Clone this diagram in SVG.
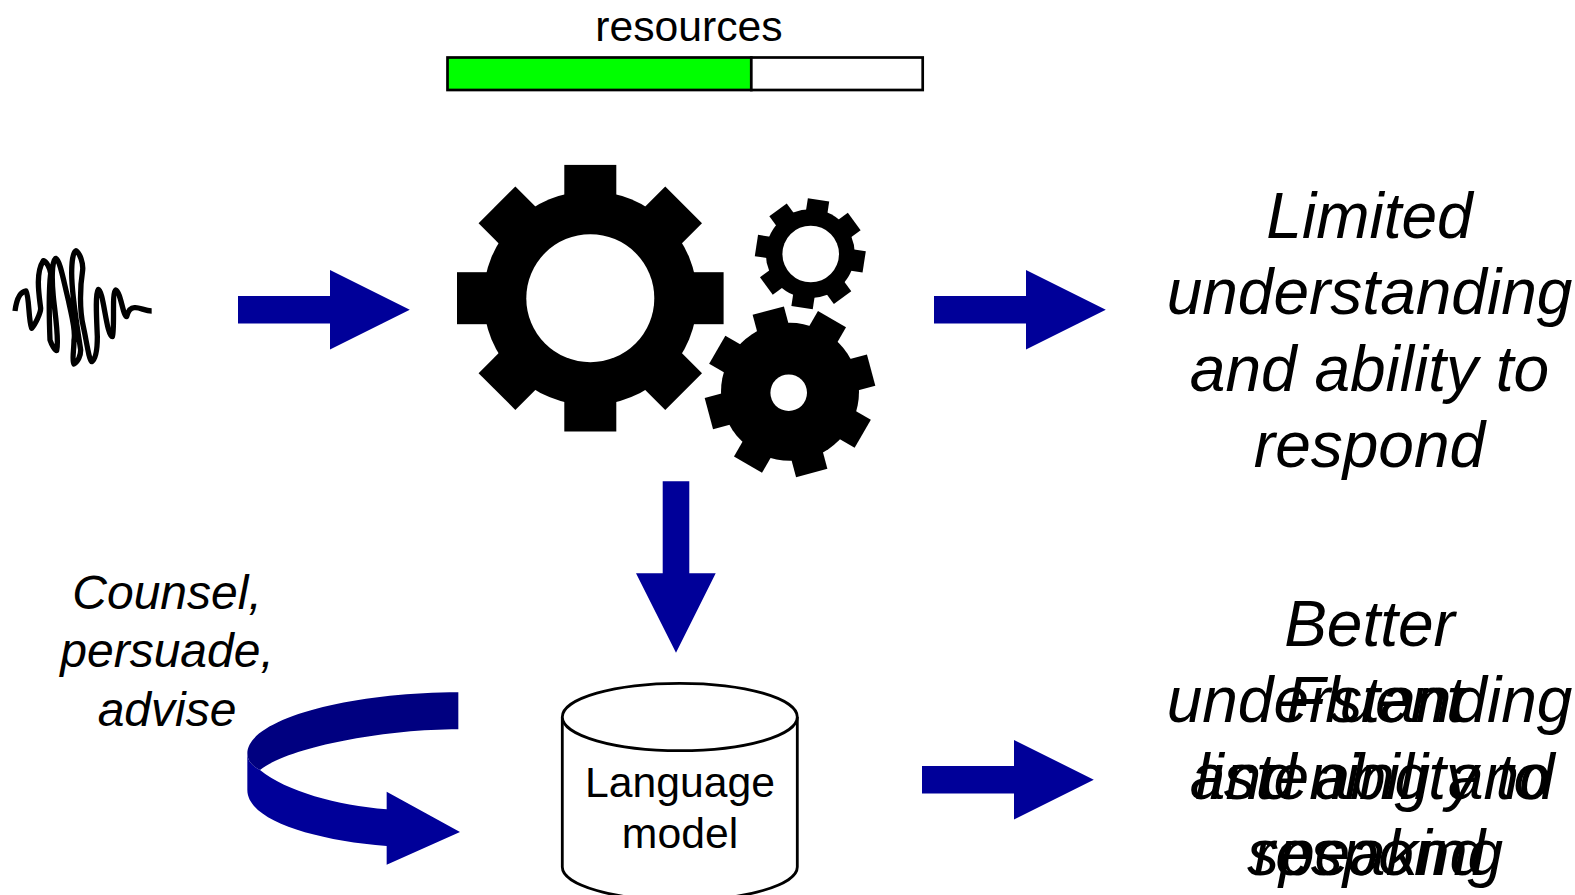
<svg xmlns="http://www.w3.org/2000/svg" width="1575" height="895" viewBox="0 0 1575 895">
<style>
text{font-family:"Liberation Sans",Arial,sans-serif;fill:#000;text-anchor:middle}
.big{font-size:64px;font-style:italic}
.mid{font-size:48px;font-style:italic}
.lab{font-size:42.7px}
.arrow{fill:#000099}
.gear{fill:#000}
.hole{fill:#fff}
</style>
<defs>
<polygon id="arrowR" class="arrow" points="0,-13.7 92,-13.7 92,-39.7 171.8,0 92,39.7 92,13.7 0,13.7"/>
</defs>
<rect width="1575" height="895" fill="#fff"/>
<g id="resources">
<text class="lab" x="689" y="41">resources</text>
<rect x="447.5" y="57.5" width="303.8" height="32.5" fill="#00ff00" stroke="#000" stroke-width="2.7"/>
<rect x="751.3" y="57.5" width="171.4" height="32.5" fill="#fff" stroke="#000" stroke-width="2.7"/>
</g>
<g id="waveform">
<path transform="translate(0,230) scale(.33333)" fill="none" stroke="#000" stroke-width="16" stroke-linecap="butt" stroke-linejoin="round" d="M45 243C50 205 62 185 78 183C88 200 85 270 95 295C105 285 122 250 122 235C118 200 105 130 130 92C140 95 150 115 152 130C145 190 148 280 150 330C155 345 165 362 170 362C178 330 165 250 160 200C155 150 155 95 167 85C180 90 190 150 205 210C215 260 228 300 222 330C222 360 215 395 222 402C235 395 242 375 242 360C235 310 215 200 215 130C215 90 220 65 228 62C240 70 250 100 248 120C240 170 238 240 250 290C258 325 268 395 275 395C290 385 292 350 292 320C290 270 285 190 295 178C310 180 320 320 337 320C345 300 335 185 347 180C362 185 370 262 380 260C385 240 395 232 405 233C420 232 435 243 455 243"/>
</g>
<g id="gear-large" transform="translate(590.3,298.2)">
<circle class="gear" r="107"/>
<rect class="gear" x="-26" y="-133.3" width="52" height="266.6"/>
<rect class="gear" x="-133.3" y="-26" width="266.6" height="52"/>
<rect class="gear" x="-26" y="-132" width="52" height="264" transform="rotate(45)"/>
<rect class="gear" x="-26" y="-132" width="52" height="264" transform="rotate(-45)"/>
<circle class="hole" r="64"/>
</g>
<g id="gear-small">
<g transform="translate(810.3,253.7)">
<circle class="gear" r="44.5"/>
<rect class="gear" x="-10.8" y="-54.5" width="21.6" height="109" transform="rotate(8.7)"/>
<rect class="gear" x="-10.8" y="-54.5" width="21.6" height="109" transform="rotate(53.7)"/>
<rect class="gear" x="-10.8" y="-54.5" width="21.6" height="109" transform="rotate(98.7)"/>
<rect class="gear" x="-10.8" y="-54.5" width="21.6" height="109" transform="rotate(143.7)"/>
</g>
<circle class="hole" cx="810.7" cy="254" r="28.3"/>
</g>
<g id="gear-medium">
<g transform="translate(790,391.8)">
<circle class="gear" r="69"/>
<rect class="gear" x="-16.2" y="-84" width="32.4" height="168" transform="rotate(-15)"/>
<rect class="gear" x="-16.2" y="-84" width="32.4" height="168" transform="rotate(30)"/>
<rect class="gear" x="-16.2" y="-84" width="32.4" height="168" transform="rotate(75)"/>
<rect class="gear" x="-16.2" y="-84" width="32.4" height="168" transform="rotate(120)"/>
</g>
<circle class="hole" cx="788.7" cy="392.7" r="18.3"/>
</g>
<g id="connectors">
<use href="#arrowR" x="238" y="309.7"/>
<use href="#arrowR" x="934" y="309.7"/>
<use href="#arrowR" x="922" y="779.7"/>
<polygon class="arrow" points="662.7,481.3 689.3,481.3 689.3,573.3 715.7,573.3 676,652.7 636,573.3 662.7,573.3"/>
<g transform="translate(230,670) scale(.33333)">
<path class="arrow" d="M52 250C52 275 70 290 90 300C170 365 320 405 470 418L470 365L690 486L470 584L470 528C250 510 52 450 52 360Z"/>
<path fill="#000080" d="M685 67C350 67 52 150 52 250C52 275 70 290 90 300C170 235 450 178 685 178Z"/>
</g>
</g>
<g id="language-model">
<path d="M562.3 717V867C562.3 885 615 900.5 679.8 900.5S797.3 885 797.3 867V717" fill="#fff" stroke="#000" stroke-width="2.8"/>
<ellipse cx="679.8" cy="717" rx="117.5" ry="33.7" fill="#fff" stroke="#000" stroke-width="2.8"/>
<text class="lab" x="680" y="797">Language</text>
<text class="lab" x="680" y="847.5">model</text>
</g>
<g id="label-counsel">
<text class="mid" x="167" y="609">Counsel,</text>
<text class="mid" x="167" y="667">persuade,</text>
<text class="mid" x="167" y="725.5">advise</text>
</g>
<g id="label-limited">
<text class="big" x="1369.5" y="238">Limited</text>
<text class="big" x="1369.5" y="314">understanding</text>
<text class="big" x="1369.5" y="391">and ability to</text>
<text class="big" x="1369.5" y="467">respond</text>
</g>
<g id="label-better">
<text class="big" x="1369.5" y="645.5">Better</text>
<text class="big" x="1369.5" y="722">understanding</text>
<text class="big" x="1369.5" y="798.5">and ability to</text>
<text class="big" x="1369.5" y="875">respond</text>
</g>
<g id="label-fluent">
<text class="big" x="1375" y="722">Fluent</text>
<text class="big" x="1375" y="798.5">listening and</text>
<text class="big" x="1375" y="875">speaking</text>
</g>
</svg>
